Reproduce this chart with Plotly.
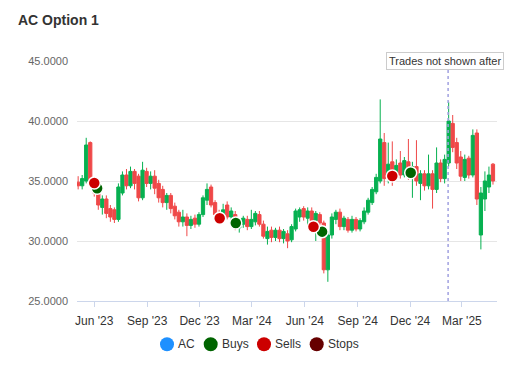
import pandas as pd
import plotly.graph_objects as go

# Weekly candles
dates = pd.date_range("2023-05-04", periods=104, freq="7D")
opens = [34.9, 34.6, 35.0, 38.2, 35.0, 34.0, 32.8, 33.5, 32.7, 32.6,
         31.8, 34.0, 35.5, 34.6, 35.8, 35.4, 33.6, 35.8, 34.8, 35.4,
         34.8, 34.3, 33.2, 33.8, 32.9, 32.4, 31.6, 32.0, 31.3, 31.9,
         31.4, 32.2, 33.4, 34.5, 33.2, 32.3, 31.7, 33.0, 32.0, 32.2,
         31.1, 31.4, 31.8, 31.2, 31.6, 32.2, 31.4, 30.2, 30.9, 30.3,
         30.9, 30.2, 30.6, 30.1, 31.0, 32.0, 32.7, 31.9, 32.5, 31.7,
         32.2, 31.5, 27.6, 30.5, 31.8, 32.4, 31.2, 31.8, 30.9, 31.8,
         31.0, 31.6, 32.4, 33.2, 34.1, 35.0, 38.2, 35.2, 36.6, 35.3,
         36.5, 35.5, 36.6, 35.4, 36.2, 34.8, 35.6, 34.6, 35.6, 34.3,
         36.5, 35.2, 36.5, 39.8, 38.2, 37.0, 35.3, 36.9, 35.5, 39.0,
         30.5, 33.5, 34.5, 36.4]
highs = [35.4, 35.5, 38.6, 38.3, 35.2, 34.3, 33.8, 33.8, 33.0, 32.8,
         34.8, 35.8, 36.0, 36.2, 36.0, 35.6, 36.6, 36.1, 35.8, 35.9,
         35.1, 34.6, 34.0, 34.0, 33.2, 32.6, 32.6, 32.3, 32.1, 32.2,
         32.4, 33.8, 34.8, 34.7, 33.4, 32.6, 33.1, 33.3, 32.8, 32.5,
         31.9, 32.1, 32.1, 32.6, 32.5, 32.5, 31.7, 31.2, 31.2, 31.1,
         31.2, 31.0, 30.9, 31.4, 32.7, 32.8, 32.9, 32.8, 32.8, 32.5,
         32.4, 31.7, 30.8, 32.3, 32.6, 32.7, 32.1, 32.0, 32.1, 32.0,
         31.9, 32.8, 33.6, 34.5, 35.6, 41.8, 39.0, 38.2, 38.3, 36.8,
         37.5, 37.0, 38.5, 36.6, 38.4, 35.9, 35.9, 37.2, 35.9, 37.8,
         36.8, 37.2, 41.6, 40.5, 38.6, 37.5, 37.2, 37.1, 39.3, 39.3,
         34.5, 35.8, 36.2, 36.5]
lows = [34.3, 34.3, 34.8, 34.8, 33.7, 32.6, 32.2, 31.9, 31.6, 31.5,
        31.6, 33.8, 34.3, 34.4, 34.3, 33.3, 33.4, 34.5, 34.3, 33.9,
        33.2, 32.8, 32.6, 32.3, 31.8, 31.2, 31.2, 30.4, 31.0, 31.1,
        31.2, 32.0, 33.0, 32.8, 31.9, 31.5, 31.5, 31.8, 31.7, 30.9,
        30.7, 31.1, 30.9, 31.0, 31.3, 31.2, 30.2, 29.7, 29.9, 30.0,
        29.9, 29.8, 29.4, 29.9, 30.8, 31.6, 31.7, 31.3, 31.4, 30.0,
        31.0, 27.3, 26.6, 30.2, 31.4, 30.9, 30.9, 30.7, 30.7, 30.8,
        30.8, 31.4, 32.2, 33.0, 33.9, 34.8, 34.6, 34.8, 34.6, 35.0,
        35.2, 35.3, 35.1, 33.6, 34.6, 33.4, 34.2, 34.3, 32.7, 34.0,
        34.9, 34.8, 36.2, 37.4, 36.0, 35.0, 35.0, 35.2, 35.3, 33.0,
        29.3, 32.5, 34.0, 34.7]
closes = [34.6, 35.2, 38.0, 35.0, 34.0, 33.0, 33.5, 32.3, 32.0, 31.8,
          34.5, 35.5, 34.6, 35.8, 34.8, 33.6, 35.9, 34.8, 35.4, 34.4,
          33.6, 33.2, 33.8, 32.7, 32.1, 31.6, 32.0, 31.3, 31.8, 31.4,
          32.2, 33.6, 34.3, 33.0, 32.2, 31.7, 32.6, 32.0, 32.5, 31.4,
          31.7, 31.9, 31.2, 31.8, 32.3, 31.4, 30.4, 30.8, 30.3, 30.9,
          30.2, 30.8, 30.0, 31.2, 32.5, 32.6, 32.0, 32.5, 31.7, 32.3,
          31.5, 27.6, 30.5, 32.0, 32.4, 31.2, 31.9, 30.9, 31.8, 31.0,
          31.7, 32.5, 33.4, 34.3, 35.3, 38.5, 35.2, 36.4, 35.3, 36.3,
          35.5, 36.7, 35.4, 36.2, 35.0, 35.6, 34.6, 35.6, 34.3, 36.5,
          35.2, 36.8, 40.0, 37.8, 36.5, 35.4, 36.8, 35.5, 38.8, 33.5,
          34.0, 35.0, 35.5, 35.0]

# Trades
buy_dates = ["2023-06-06", "2024-02-02", "2024-07-01", "2024-12-02"]
buy_prices = [34.4, 31.5, 30.78, 35.69]
sell_dates = ["2023-06-01", "2024-01-05", "2024-06-16", "2024-10-31"]
sell_prices = [34.83, 31.9, 31.19, 35.42]
stop_dates = []
stop_prices = []

tick_dates = ["2023-06-01", "2023-09-01", "2023-12-01", "2024-03-01",
              "2024-06-01", "2024-09-01", "2024-12-01", "2025-03-01"]
tick_labels = ["Jun '23", "Sep '23", "Dec '23", "Mar '24",
               "Jun '24", "Sep '24", "Dec '24", "Mar '25"]
y_ticks = [25, 30, 35, 40, 45]
cutoff_date = "2025-02-05"

legend_names = ["AC", "Buys", "Sells", "Stops"]
legend_colors = ["#1e90ff", "#006400", "#cc0000", "#660000"]

GREEN = "#06b050"
RED = "#ef4848"
FONT = "Liberation Sans, Arial, sans-serif"

# figure geometry (page body has an 8px margin)
W, H = 522, 372
ML, MR, MT, MB = 69, 33, 53, 79
PW, PH = W - ML - MR, H - MT - MB

fig = go.Figure()
fig.add_trace(go.Candlestick(
    x=dates, open=opens, high=highs, low=lows, close=closes,
    increasing=dict(line=dict(color=GREEN, width=1), fillcolor=GREEN),
    decreasing=dict(line=dict(color=RED, width=1), fillcolor=RED),
    whiskerwidth=0, showlegend=False, name="AC", hoverinfo="skip",
))
fig.add_trace(go.Scatter(x=buy_dates, y=buy_prices, mode="markers", name="Buys",
                         showlegend=False,
                         marker=dict(color=legend_colors[1], size=12,
                                     line=dict(color="white", width=1.5))))
fig.add_trace(go.Scatter(x=sell_dates, y=sell_prices, mode="markers", name="Sells",
                         showlegend=False,
                         marker=dict(color=legend_colors[2], size=12,
                                     line=dict(color="white", width=1.5))))
if stop_dates:
    fig.add_trace(go.Scatter(x=stop_dates, y=stop_prices, mode="markers", name="Stops",
                             showlegend=False,
                             marker=dict(color=legend_colors[3], size=12,
                                         line=dict(color="white", width=1.5))))

# cutoff line and label
fig.add_shape(type="line", xref="x", yref="paper", x0=cutoff_date, x1=cutoff_date,
              y0=0, y1=1, line=dict(color="#a0a0e0", width=1.5, dash="dot"), layer="above")
fig.add_annotation(x=cutoff_date, y=1.0, xref="x", yref="paper", xanchor="left",
                   xshift=-62, yanchor="middle", text="Trades not shown after",
                   showarrow=False, bgcolor="white", bordercolor="#cccccc",
                   borderwidth=1, borderpad=2,
                   font=dict(family=FONT, size=11, color="#333333"))

# legend (Highcharts style: circle + label close together)
legend_circle_px = [159, 202.7, 256, 308.7]
legend_text_px = [168, 212, 265.3, 318]
legend_y_px = 336.3
ly = (MT + PH - legend_y_px) / PH
for name, col, cx, tx in zip(legend_names, legend_colors, legend_circle_px, legend_text_px):
    fig.add_shape(type="circle", xref="paper", yref="paper",
                  xsizemode="pixel", ysizemode="pixel",
                  xanchor=(cx - ML) / PW, yanchor=ly,
                  x0=-7, x1=7, y0=-7, y1=7,
                  fillcolor=col, line=dict(color=col, width=0))
    fig.add_annotation(x=(tx - ML) / PW, y=ly, xref="paper", yref="paper",
                       xanchor="left", yanchor="middle", text=name, showarrow=False,
                       font=dict(family=FONT, size=12, color="#333333"))

fig.update_layout(
    width=W, height=H,
    margin=dict(l=ML, r=MR, t=MT, b=MB, autoexpand=False),
    paper_bgcolor="white", plot_bgcolor="white",
    font=dict(family=FONT, size=12, color="#333333"),
    title=dict(text="<b>AC Option 1</b>", x=10 / W, xref="container", xanchor="left",
               y=1 - 12 / H, yref="container", yanchor="middle",
               font=dict(family=FONT, size=14, color="#333333")),
    showlegend=False,
    boxgap=0.05, boxgroupgap=0.15,
    xaxis=dict(type="date", range=["2023-05-02", "2025-05-01"],
               tickvals=tick_dates, ticktext=tick_labels,
               showgrid=False, showline=True, linecolor="#ccd6eb", linewidth=1,
               ticks="outside", ticklen=5, tickcolor="#ccd6eb",
               rangeslider=dict(visible=False),
               tickfont=dict(family=FONT, size=12, color="#333333"),
               ticklabelstandoff=4, zeroline=False),
    yaxis=dict(range=[25, 45], tickvals=y_ticks, tickformat=".4f",
               showgrid=True, gridcolor="#e6e6e6", gridwidth=1,
               zeroline=False, showline=False, ticks="",
               tickfont=dict(family=FONT, size=11, color="#666666"),
               ticklabelstandoff=8),
    hovermode=False,
)

fig.write_html("out.html")
